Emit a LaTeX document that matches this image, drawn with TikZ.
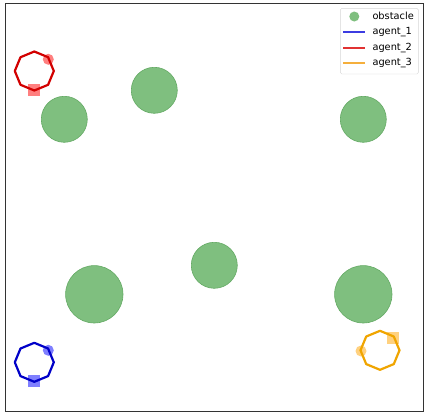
\documentclass[tikz,border=0pt]{standalone}
\usepackage{fontspec}
\setmainfont{DejaVu Sans}
\begin{document}
\begin{tikzpicture}[x=1pt,y=-1pt,
  obst/.style={fill=obsgreen,draw=obsedge,line width=0.6pt},
  ring/.style={line width=2.2pt,line join=round},
  mk/.style={opacity=0.5},
  legline/.style={line width=2pt}]
\definecolor{obsgreen}{RGB}{127,191,127}
\definecolor{obsedge}{RGB}{100,170,100}
\definecolor{ablue}{RGB}{0,0,200}
\definecolor{ared}{RGB}{210,0,0}
\definecolor{aorange}{RGB}{240,165,0}
\definecolor{mblue}{RGB}{0,0,255}
\definecolor{mred}{RGB}{255,0,0}
\definecolor{morange}{RGB}{255,165,0}
\definecolor{lblue}{RGB}{60,60,225}
\definecolor{lred}{RGB}{225,50,50}
\definecolor{lorange}{RGB}{245,175,60}
\definecolor{legedge}{RGB}{215,215,215}
\newcommand\octring[3]{\draw[#1,ring,shift={(#2,#3)}] (90:19.5) -- (135:19.5) -- (180:19.5) -- (225:19.5) -- (270:19.5) -- (315:19.5) -- (0:19.5) -- (45:19.5) -- cycle;}
\useasboundingbox (0,0) rectangle (429,416);
\fill[white] (0,0) rectangle (429,416);
% obstacles
\fill[obst] (64.3,119.3) circle (23);
\fill[obst] (154.3,90.3) circle (23);
\fill[obst] (363.3,119.3) circle (23);
\fill[obst] (214.3,265.3) circle (23);
\fill[obst] (94.3,294.3) circle (28.7);
\fill[obst] (363.3,294.3) circle (28.7);
% agent 2 (red)
\fill[mred,mk] (48.3,59.3) circle (5.5);
\fill[mred,mk] (28.2,84.2) rectangle (40.4,96.4);
\octring{ared}{34.3}{71}
% agent 1 (blue)
\fill[mblue,mk] (48.3,350.3) circle (5.5);
\fill[mblue,mk] (28.2,375.2) rectangle (40.4,387.4);
\octring{ablue}{34.3}{362.3}
% agent 3 (orange)
\fill[morange,mk] (361,351) circle (5.5);
\fill[morange,mk] (387.2,332.2) rectangle (399.4,344.4);
\octring{aorange}{380}{350.3}
% frame
\draw[black!80,line width=0.9pt] (5.3,3.3) rectangle (423.3,411.7);
% legend
\draw[draw=legedge,fill=white,rounded corners=1.5pt] (340.3,8.3) rectangle (418.3,74);
\fill[obsgreen] (354.3,16.5) circle (5);
\draw[draw=lblue,legline] (343,32) -- (365,32);
\draw[draw=lred,legline] (343,48) -- (365,48);
\draw[draw=lorange,legline] (343,63) -- (365,63);
\begin{scope}[every node/.style={anchor=west,inner sep=0pt,font=\fontsize{9.8}{11}\selectfont}]
\node (lo) at (372.3,16.3) {obstacle};
\node (l1) at (372.3,32.3) {agent\_1};
\node (l2) at (372.3,47.7) {agent\_2};
\node (l3) at (372.3,63.3) {agent\_3};
\end{scope}
\end{tikzpicture}
\end{document}
